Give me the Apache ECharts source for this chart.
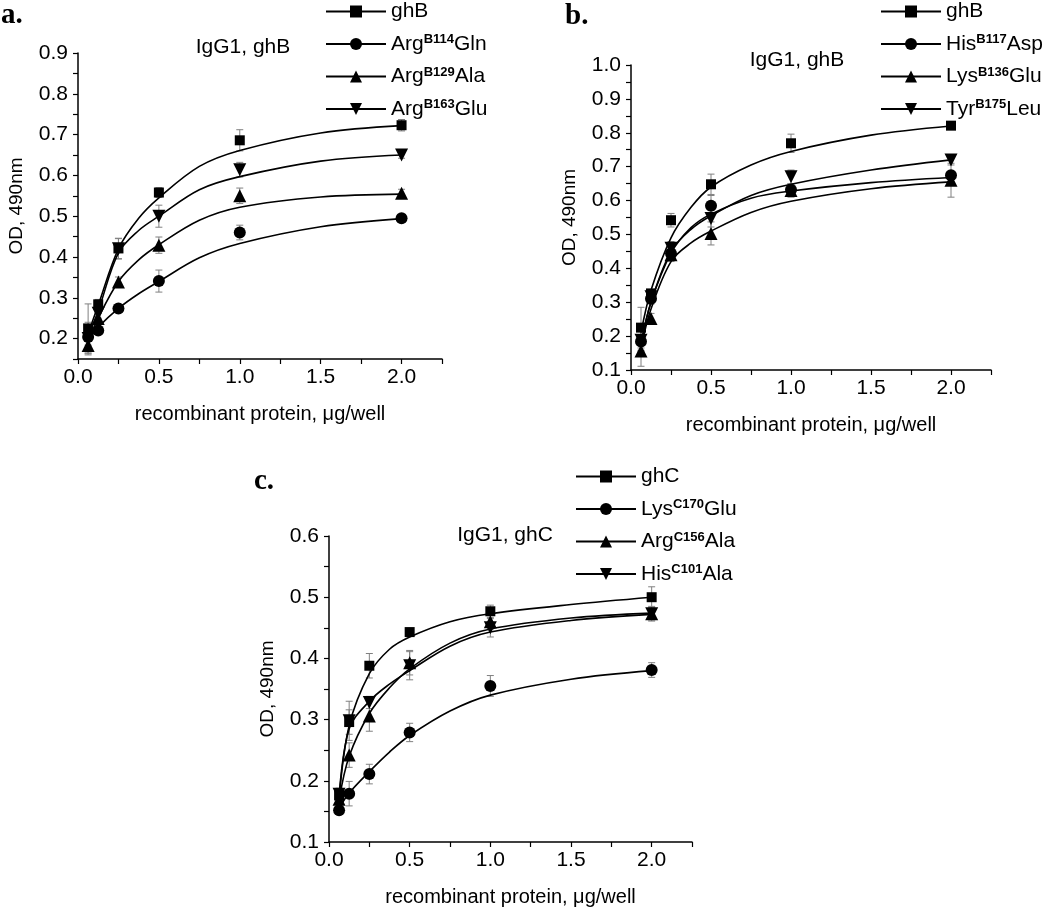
<!DOCTYPE html>
<html>
<head>
<meta charset="utf-8">
<script src="https://cdn.jsdelivr.net/npm/echarts@6/dist/echarts.min.js"></script>
<style>
html,body{margin:0;padding:0;background:#fff;}
#chart{width:1050px;height:908px;}
</style>
</head>
<body>
<div id="chart"></div>
<script>
// ---------- DATA ----------
const xConc = [0.0625, 0.125, 0.25, 0.5, 1, 2];
const xFit = [0.0625, 0.125, 0.25, 0.375, 0.5, 0.75, 1, 1.5, 2];

// Panel a (IgG1, ghB)
const aLabels = [['ghB', '', ''], ['Arg', 'B114', 'Gln'], ['Arg', 'B129', 'Ala'], ['Arg', 'B163', 'Glu']];
const aGhB = [0.225, 0.284, 0.421, 0.558, 0.686, 0.723];
const aArg114 = [0.204, 0.220, 0.274, 0.341, 0.460, 0.495];
const aArg129 = [0.183, 0.249, 0.339, 0.429, 0.550, 0.556];
const aArg163 = [0.200, 0.262, 0.420, 0.500, 0.614, 0.650];
const aErrGhB = [0.060, 0.012, 0.025, 0.012, 0.026, 0.014];
const aErr114 = [0.020, 0.010, 0.008, 0.027, 0.018, 0.006];
const aErr129 = [0.020, 0.012, 0.012, 0.020, 0.019, 0.010];
const aErr163 = [0.040, 0.012, 0.025, 0.027, 0.018, 0.008];
const aFitGhB = [0.212, 0.282, 0.420, 0.495, 0.545, 0.622, 0.661, 0.704, 0.722];
const aFit114 = [0.198, 0.228, 0.274, 0.310, 0.340, 0.398, 0.433, 0.474, 0.494];
const aFit129 = [0.190, 0.250, 0.340, 0.393, 0.430, 0.490, 0.522, 0.547, 0.554];
const aFit163 = [0.205, 0.268, 0.410, 0.465, 0.500, 0.565, 0.597, 0.635, 0.650];

// Panel b (IgG1, ghB)
const bLabels = [['ghB', '', ''], ['His', 'B117', 'Asp'], ['Lys', 'B136', 'Glu'], ['Tyr', 'B175', 'Leu']];
const bGhB = [0.225, 0.326, 0.542, 0.648, 0.769, 0.821];
const bHis = [0.184, 0.310, 0.444, 0.585, 0.632, 0.675];
const bLys = [0.156, 0.252, 0.440, 0.503, 0.630, 0.660];
const bTyr = [0.188, 0.316, 0.459, 0.547, 0.670, 0.720];
const bErrGhB = [0.060, 0.010, 0.020, 0.030, 0.027, 0.010];
const bErrHis = [0.030, 0.015, 0.020, 0.030, 0.015, 0.010];
const bErrLys = [0.045, 0.015, 0.020, 0.034, 0.020, 0.050];
const bErrTyr = [0.030, 0.015, 0.020, 0.025, 0.020, 0.015];
const bFitGhB = [0.210, 0.335, 0.490, 0.580, 0.640, 0.705, 0.745, 0.793, 0.820];
const bFitHis = [0.180, 0.300, 0.445, 0.520, 0.560, 0.607, 0.628, 0.653, 0.668];
const bFitLys = [0.165, 0.280, 0.420, 0.475, 0.510, 0.565, 0.598, 0.635, 0.655];
const bFitTyr = [0.175, 0.300, 0.450, 0.515, 0.555, 0.615, 0.648, 0.690, 0.720];

// Panel c (IgG1, ghC)
const cLabels = [['ghC', '', ''], ['Lys', 'C170', 'Glu'], ['Arg', 'C156', 'Ala'], ['His', 'C101', 'Ala']];
const cGhC = [0.176, 0.296, 0.388, 0.443, 0.477, 0.500];
const cLys = [0.152, 0.179, 0.211, 0.279, 0.355, 0.381];
const cArg = [0.170, 0.242, 0.306, 0.393, 0.460, 0.473];
const cHis = [0.178, 0.298, 0.328, 0.388, 0.450, 0.473];
const cErrGhC = [0.010, 0.020, 0.020, 0.006, 0.010, 0.017];
const cErrLys = [0.005, 0.020, 0.016, 0.015, 0.017, 0.012];
const cErrArg = [0.010, 0.020, 0.025, 0.020, 0.012, 0.010];
const cErrHis = [0.010, 0.032, 0.010, 0.023, 0.015, 0.012];
const cFitGhC = [0.170, 0.290, 0.375, 0.415, 0.435, 0.460, 0.473, 0.488, 0.500];
const cFitLys = [0.155, 0.180, 0.215, 0.247, 0.274, 0.314, 0.340, 0.366, 0.380];
const cFitArg = [0.168, 0.240, 0.310, 0.352, 0.383, 0.425, 0.448, 0.466, 0.474];
const cFitHis = [0.175, 0.285, 0.330, 0.358, 0.380, 0.420, 0.443, 0.462, 0.472];

const xTitle = 'recombinant protein, \u03bcg/well';
const yTitle = 'OD, 490nm';
const panelTags = ['a.', 'b.', 'c.'];
const panelNotes = ['IgG1, ghB', 'IgG1, ghB', 'IgG1, ghC'];

// ---------- BUILD ----------
const FONT = '"Liberation Sans", Arial, sans-serif';
const SERIF = '"Liberation Serif", "Times New Roman", serif';
const symbols = ['rect', 'circle', 'triangle', 'path://M0,0L10,0L5,10Z'];
const symSizes = [10, 12, 13, 13];

const panels = [
  { tag: 'a', labels: aLabels, vals: [aGhB, aArg114, aArg129, aArg163], errs: [aErrGhB, aErr114, aErr129, aErr163], fits: [aFitGhB, aFit114, aFit129, aFit163],
    grid: { left: 78, top: 53, width: 364, height: 306 }, yMin: 0.15, yMax: 0.9, legend: { left: 325, top: 1, gap: 11 } },
  { tag: 'b', labels: bLabels, vals: [bGhB, bHis, bLys, bTyr], errs: [bErrGhB, bErrHis, bErrLys, bErrTyr], fits: [bFitGhB, bFitHis, bFitLys, bFitTyr],
    grid: { left: 631, top: 65, width: 360, height: 305 }, yMin: 0.1, yMax: 1.0, legend: { left: 880, top: 1, gap: 11 } },
  { tag: 'c', labels: cLabels, vals: [cGhC, cLys, cArg, cHis], errs: [cErrGhC, cErrLys, cErrArg, cErrHis], fits: [cFitGhC, cFitLys, cFitArg, cFitHis],
    grid: { left: 329, top: 536, width: 363, height: 307 }, yMin: 0.1, yMax: 0.6, legend: { left: 575, top: 466, gap: 11 } }
];

const labelMap = {};
const grids = [], xAxes = [], yAxes = [], series = [], legends = [];

function errRender(params, api) {
  const x = api.value(0), lo = api.value(1), hi = api.value(2);
  const p1 = api.coord([x, lo]), p2 = api.coord([x, hi]);
  const w = 3.5;
  const st = { stroke: '#808080', lineWidth: 1 };
  return { type: 'group', children: [
    { type: 'line', shape: { x1: p1[0], y1: p1[1], x2: p2[0], y2: p2[1] }, style: st },
    { type: 'line', shape: { x1: p1[0] - w, y1: p1[1], x2: p1[0] + w, y2: p1[1] }, style: st },
    { type: 'line', shape: { x1: p2[0] - w, y1: p2[1], x2: p2[0] + w, y2: p2[1] }, style: st }
  ] };
}

panels.forEach((p, gi) => {
  grids.push(Object.assign({}, p.grid));
  const axisLine = { show: true, onZero: false, lineStyle: { color: '#000', width: 1.5 } };
  xAxes.push({
    type: 'value', gridIndex: gi, min: 0, max: 2.25, interval: 0.25,
    axisLine: axisLine,
    axisTick: { show: true, length: 5, lineStyle: { color: '#000', width: 1.2 } },
    splitLine: { show: false },
    axisLabel: { color: '#000', fontFamily: FONT, fontSize: 21, margin: 8,
      formatter: v => (Math.abs(v * 2 - Math.round(v * 2)) < 1e-6 ? v.toFixed(1) : '') },
    name: xTitle, nameLocation: 'middle', nameGap: 45,
    nameTextStyle: { color: '#000', fontFamily: FONT, fontSize: 20 }
  });
  yAxes.push({
    type: 'value', gridIndex: gi, min: p.yMin, max: p.yMax, interval: 0.05,
    axisLine: axisLine,
    axisTick: { show: true, length: 5, lineStyle: { color: '#000', width: 1.2 } },
    splitLine: { show: false },
    axisLabel: { color: '#000', fontFamily: FONT, fontSize: 21, margin: 10,
      formatter: v => (Math.abs(v * 10 - Math.round(v * 10)) < 1e-6 ? v.toFixed(1) : '') },
    name: yTitle, nameLocation: 'middle', nameGap: 52, nameRotate: 90,
    nameTextStyle: { color: '#000', fontFamily: FONT, fontSize: 19 }
  });
  const legendNames = [];
  p.labels.forEach((lab, si) => {
    const key = p.tag + si;
    labelMap[key] = lab;
    legendNames.push(key);
    series.push({
      type: 'custom', name: key + '_err', xAxisIndex: gi, yAxisIndex: gi, z: 2,
      renderItem: errRender, silent: true,
      encode: { x: 0, y: [1, 2] },
      data: xConc.map((x, i) => [x, p.vals[si][i] - p.errs[si][i], p.vals[si][i] + p.errs[si][i]])
    });
    series.push({
      type: 'line', name: key, xAxisIndex: gi, yAxisIndex: gi, z: 3,
      symbol: symbols[si], symbolSize: symSizes[si], showSymbol: false,
      smooth: 0.35,
      lineStyle: { color: '#000', width: 1.6 }, itemStyle: { color: '#000' },
      silent: true,
      data: xFit.map((x, i) => [x, p.fits[si][i]])
    });
    series.push({
      type: 'scatter', name: key + '_pts', xAxisIndex: gi, yAxisIndex: gi, z: 4,
      symbol: symbols[si], symbolSize: symSizes[si],
      itemStyle: { color: '#000', opacity: 1 }, silent: true,
      data: xConc.map((x, i) => [x, p.vals[si][i]])
    });
  });
  legends.push({
    data: legendNames, orient: 'vertical', left: p.legend.left, top: p.legend.top,
    itemWidth: 60, itemHeight: 15, itemGap: p.legend.gap, padding: 0, selectedMode: false,
    textStyle: {
      color: '#000', fontFamily: FONT, fontSize: 21,
      rich: {
        t: { fontFamily: FONT, fontSize: 21, lineHeight: 22, color: '#000' },
        s: { fontFamily: FONT, fontSize: 13, fontWeight: 'bold', lineHeight: 11, verticalAlign: 'top', color: '#000' }
      }
    },
    formatter: name => {
      const l = labelMap[name];
      if (!l[1]) return '{t|' + l[0] + '}';
      return '{t|' + l[0] + '}{s|' + l[1] + '}{t|' + l[2] + '}';
    }
  });
});

const graphics = [];
const tagPos = [[1, 1], [565, 2], [254, 467]];
const notePos = [[243, 47], [797, 60], [505, 535]];
panelTags.forEach((t, i) => {
  graphics.push({ type: 'text', left: tagPos[i][0], top: tagPos[i][1],
    style: { text: t, font: 'bold 29px ' + SERIF, fill: '#000' } });
});
panelNotes.forEach((t, i) => {
  graphics.push({ type: 'text', x: notePos[i][0], y: notePos[i][1],
    style: { text: t, font: '21px ' + FONT, fill: '#000', align: 'center', verticalAlign: 'middle' } });
});

const chart = echarts.init(document.getElementById('chart'), null, { renderer: 'canvas' });
chart.setOption({
  animation: false,
  backgroundColor: '#fff',
  grid: grids, xAxis: xAxes, yAxis: yAxes, legend: legends,
  series: series, graphic: graphics
});
</script>
</body>
</html>
